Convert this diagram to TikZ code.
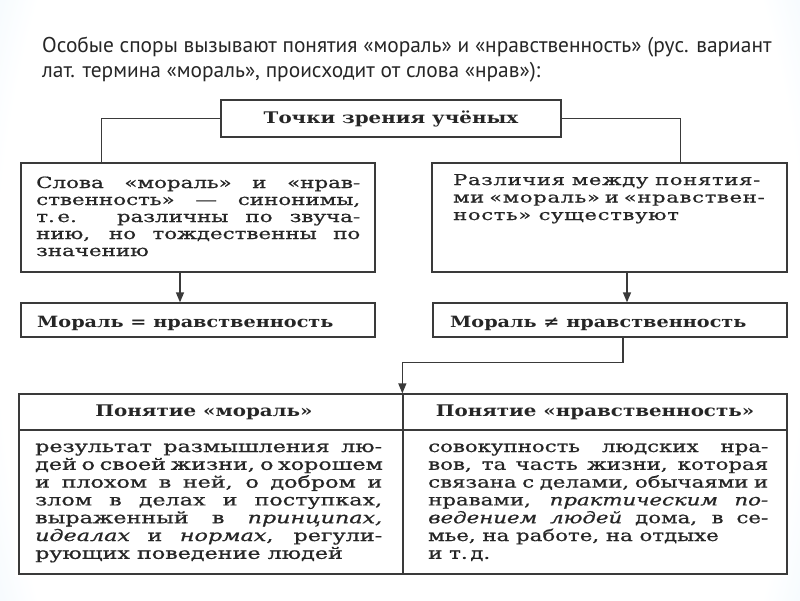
\documentclass[tikz,border=0pt]{standalone}
\usepackage{fontspec}
\usetikzlibrary{arrows.meta,calc}
\setmainfont{DejaVu Serif}
\newfontfamily\lboxfont[FakeStretch=1.38, FakeBold=0.8]{DejaVu Serif}
\newfontfamily\rboxfont[FakeStretch=1.4, FakeBold=0.8, LetterSpace=5]{DejaVu Serif}
\newfontfamily\tlfont[FakeStretch=1.39, FakeBold=0.8]{DejaVu Serif}
\newfontfamily\trfont[FakeStretch=1.33, FakeBold=0.8]{DejaVu Serif}
\newfontfamily\bfont[FakeStretch=1.24]{DejaVu Serif Bold}
\newfontfamily\tfont{PT Sans}
\definecolor{bgblue}{HTML}{A3D2F5}
\definecolor{linec}{HTML}{3A3A3A}
\definecolor{txt}{HTML}{262626}
\pgfdeclareradialshading{bgrad}{\pgfpoint{0bp}{0bp}}{color(0bp)=(white); color(24bp)=(white); color(42bp)=(bgblue!80); color(50bp)=(bgblue)}
\newcommand{\jline}[1]{\hbox to \hsize{#1}}
\newcommand{\nline}[1]{\hbox{#1}}
\begin{document}
\begin{tikzpicture}[x=1pt,y=-1pt,
  box/.style={draw=linec, line width=1.3pt, fill=white, inner sep=0pt},
  conn/.style={draw=linec, line width=1.3pt},
  arr/.style={conn, -{Triangle[length=10pt,width=8pt]}},
  bodytxt/.style={anchor=base west, inner sep=0pt, text=txt},
  headtxt/.style={font=\bfont\fontsize{16}{18}\selectfont, text=txt}]
\useasboundingbox (0,0) rectangle (800,600);
% background
\begin{scope}
\clip (0,0) rectangle (800,600);
\shade[shading=bgrad] (-20,-400) rectangle (820,1000);
\end{scope}
\fill[white] (15,97) rectangle (788,577);
% title
\node[anchor=base west, inner sep=0pt, text=txt, font=\tfont\fontsize{21.4}{25}\selectfont] (t1) at (42,52)
  {Особые споры вызывают понятия «мораль» и «нравственность» (рус. вариант};
\node[anchor=base west, inner sep=0pt, text=txt, font=\tfont\fontsize{21.4}{25}\selectfont] (t2) at (42,77)
  {лат. термина «мораль», происходит от слова «нрав»):};
% top box
\node[box, headtxt, minimum width=340pt, minimum height=37pt] (top) at (391,118.5) {Точки зрения учёных};
% second row boxes
\node[box, minimum width=354pt, minimum height=109pt] (lbox) at (198,217.5) {};
\node[box, minimum width=355pt, minimum height=109pt] (rbox) at (609.5,217.5) {};
\node[bodytxt] (ltext) at (36,188) {\parbox[t]{324pt}{\lboxfont\fontsize{15.5}{17}\selectfont
  \jline{Слова «мораль» и «нрав-}
  \jline{ственность» — синонимы,}
  \jline{т.\,е. различны по звуча-}
  \jline{нию, но тождественны по}
  \nline{значению}}};
\node[bodytxt] (rtext) at (453,185) {\parbox[t]{307pt}{\rboxfont\fontsize{15}{17.5}\selectfont
  \jline{Различия между понятия-}
  \jline{ми «мораль» и «нравствен-}
  \nline{ность» существуют}}};
% third row boxes
\node[box, minimum width=354pt, minimum height=34pt] (leq) at (198,320) {};
\node[box, minimum width=354pt, minimum height=34pt] (rneq) at (610,320) {};
\node[bodytxt, font=\bfont\fontsize{15.5}{18}\selectfont] (leqtxt) at (37,327) {Мораль = нравственность};
\node[bodytxt, font=\bfont\fontsize{15.5}{18}\selectfont] (rneqtxt) at (450,327) {Мораль ≠ нравственность};
% table
\node[box, minimum width=384pt, minimum height=36pt] (hl) at (211,412) {};
\node[box, minimum width=384pt, minimum height=36pt] (hr) at (595,412) {};
\node[headtxt, inner sep=0pt] (hltxt) at (204,412) {Понятие «мораль»};
\node[headtxt, inner sep=0pt] (hrtxt) at (595,412) {Понятие «нравственность»};
\node[box, minimum width=384pt, minimum height=144pt] (bl) at (211,502) {};
\node[box, minimum width=384pt, minimum height=144pt] (br) at (595,502) {};
\node[bodytxt] (bltext) at (35,452) {\parbox[t]{347pt}{\tlfont\fontsize{16}{17.8}\selectfont
  \jline{результат размышления лю-}
  \jline{дей о своей жизни, о хорошем}
  \jline{и плохом в ней, о добром и}
  \jline{злом в делах и поступках,}
  \jline{выраженный в \textit{принципах,}}
  \jline{\textit{идеалах} и \textit{нормах}, регули-}
  \nline{рующих поведение людей}}};
\node[bodytxt] (brtext) at (428,452) {\parbox[t]{340pt}{\trfont\fontsize{16}{17.8}\selectfont
  \jline{совокупность людских нра-}
  \jline{вов, та часть жизни, которая}
  \jline{связана с делами, обычаями и}
  \jline{нравами, \textit{практическим по-}}
  \jline{\textit{ведением людей} дома, в се-}
  \nline{мье, на работе, на отдыхе}
  \nline{и т.\,д.}}};
% connectors
\draw[conn] (top.west) -| ($(lbox.north west)+(81,0)$);
\draw[conn] (top.east) -| ($(rbox.north east)+(-107,0)$);
\draw[arr] ($(lbox.south)+(-18,0)$) -- ($(leq.north)+(-18,0)$);
\draw[arr] ($(rbox.south)+(17.5,0)$) -- ($(rneq.north)+(17,0)$);
\draw[arr] ($(rneq.south)+(13,0)$) |- ($(hr.north west)+(0,-31)$) -- (hr.north west);
\end{tikzpicture}
\end{document}
